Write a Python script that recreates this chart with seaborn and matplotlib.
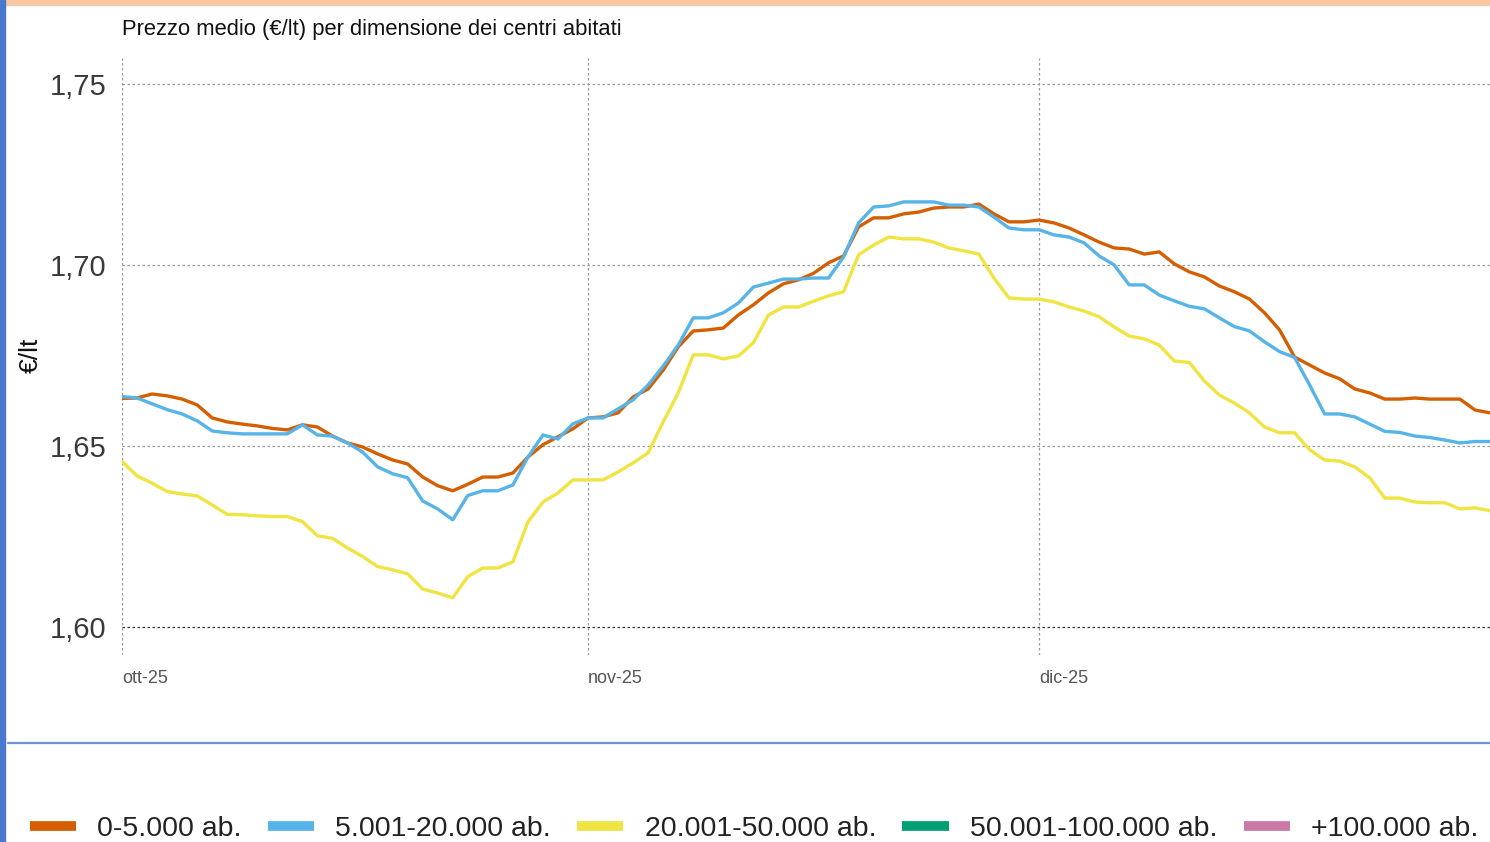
import numpy as np
import pandas as pd
import matplotlib
matplotlib.use("Agg")
import matplotlib.pyplot as plt
from matplotlib.lines import Line2D
import seaborn as sns

# --- Dati (prezzo medio giornaliero, ott-dic 2025) ---
start_date = "2025-10-01"

series_names = ["0-5.000 ab.", "5.001-20.000 ab.", "20.001-50.000 ab.",
                "50.001-100.000 ab.", "+100.000 ab."]
series_colors = ["#D55E00", "#56B4E9", "#F0E442", "#009E73", "#CC79A7"]

prezzo_0_5k = [
    1.6632, 1.6633, 1.6644, 1.6639, 1.6630, 1.6614, 1.6578, 1.6567, 1.6561, 1.6556,
    1.6549, 1.6545, 1.6559, 1.6553, 1.6528, 1.6509, 1.6498, 1.6479, 1.6462, 1.6451,
    1.6415, 1.6391, 1.6377, 1.6395, 1.6415, 1.6415, 1.6426, 1.6470, 1.6504, 1.6526,
    1.6548, 1.6578, 1.6581, 1.6592, 1.6636, 1.6658, 1.6710, 1.6774, 1.6818, 1.6821,
    1.6826, 1.6862, 1.6890, 1.6923, 1.6948, 1.6959, 1.6977, 1.7006, 1.7025, 1.7105,
    1.7130, 1.7130, 1.7141, 1.7146, 1.7157, 1.7160, 1.7160, 1.7168, 1.7141, 1.7119,
    1.7119, 1.7124, 1.7116, 1.7102, 1.7083, 1.7063, 1.7047, 1.7044, 1.7030, 1.7036,
    1.7003, 1.6981, 1.6967, 1.6942, 1.6926, 1.6906, 1.6868, 1.6821, 1.6746, 1.6724,
    1.6702, 1.6686, 1.6658, 1.6647, 1.6630, 1.6630, 1.6633, 1.6630, 1.6630, 1.6630,
    1.6600, 1.6592,
]

prezzo_5k_20k = [
    1.6637, 1.6633, 1.6617, 1.6601, 1.6589, 1.6570, 1.6542, 1.6537, 1.6534, 1.6534,
    1.6534, 1.6534, 1.6559, 1.6531, 1.6528, 1.6509, 1.6484, 1.6443, 1.6424, 1.6413,
    1.6349, 1.6327, 1.6297, 1.6364, 1.6377, 1.6377, 1.6393, 1.6470, 1.6531, 1.6520,
    1.6562, 1.6578, 1.6578, 1.6603, 1.6628, 1.6669, 1.6721, 1.6779, 1.6854, 1.6854,
    1.6868, 1.6895, 1.6939, 1.6950, 1.6961, 1.6961, 1.6964, 1.6964, 1.7022, 1.7116,
    1.7160, 1.7163, 1.7174, 1.7174, 1.7174, 1.7165, 1.7165, 1.7160, 1.7132, 1.7102,
    1.7097, 1.7097, 1.7083, 1.7077, 1.7061, 1.7025, 1.7000, 1.6945, 1.6945, 1.6917,
    1.6901, 1.6886, 1.6879, 1.6854, 1.6830, 1.6818, 1.6788, 1.6761, 1.6745, 1.6669,
    1.6589, 1.6589, 1.6581, 1.6561, 1.6541, 1.6538, 1.6528, 1.6524, 1.6517, 1.6509,
    1.6513, 1.6513,
]

prezzo_20k_50k = [
    1.6458, 1.6418, 1.6398, 1.6375, 1.6368, 1.6363, 1.6338, 1.6312, 1.6311, 1.6308,
    1.6306, 1.6306, 1.6292, 1.6253, 1.6246, 1.6219, 1.6196, 1.6168, 1.6159, 1.6148,
    1.6106, 1.6095, 1.6082, 1.6140, 1.6164, 1.6164, 1.6181, 1.6291, 1.6346, 1.6371,
    1.6407, 1.6407, 1.6407, 1.6429, 1.6454, 1.6482, 1.6567, 1.6647, 1.6752, 1.6752,
    1.6741, 1.6749, 1.6785, 1.6862, 1.6884, 1.6884, 1.6900, 1.6915, 1.6926, 1.7028,
    1.7055, 1.7077, 1.7072, 1.7072, 1.7063, 1.7047, 1.7039, 1.7030, 1.6964, 1.6909,
    1.6906, 1.6906, 1.6898, 1.6884, 1.6873, 1.6857, 1.6829, 1.6804, 1.6796, 1.6779,
    1.6735, 1.6731, 1.6680, 1.6641, 1.6619, 1.6592, 1.6553, 1.6537, 1.6537, 1.6490,
    1.6462, 1.6459, 1.6443, 1.6413, 1.6357, 1.6357, 1.6346, 1.6344, 1.6344, 1.6327,
    1.6330, 1.6322,
]

y_ticks = [1.60, 1.65, 1.70, 1.75]
y_tick_labels = ["1,60", "1,65", "1,70", "1,75"]
x_tick_dates = ["2025-10-01", "2025-11-01", "2025-12-01"]
x_tick_labels = ["ott-25", "nov-25", "dic-25"]

# --- DataFrame lungo per seaborn ---
dates = pd.date_range(start_date, periods=len(prezzo_0_5k), freq="D")
df = pd.concat([
    pd.DataFrame({"data": dates, "prezzo": prezzo_0_5k, "classe": series_names[0]}),
    pd.DataFrame({"data": dates, "prezzo": prezzo_5k_20k, "classe": series_names[1]}),
    pd.DataFrame({"data": dates, "prezzo": prezzo_20k_50k, "classe": series_names[2]}),
])

sns.set_theme(style="white")
plt.rcParams["font.family"] = ["Liberation Sans", "DejaVu Sans"]

W, H = 1490, 842
fig = plt.figure(figsize=(W / 100, H / 100), dpi=100)
ax = fig.add_axes([122 / W, 1 - 655 / H, 1 - 122 / W, (655 - 58) / H])

sns.lineplot(data=df, x="data", y="prezzo", hue="classe",
             hue_order=series_names[:3], palette=series_colors[:3],
             linewidth=2.4, legend=False, ax=ax)

# --- Assi ---
ax.set_xlim(pd.Timestamp("2025-10-01"), pd.Timestamp("2025-12-31"))
ax.set_ylim(1.5924, 1.7571)
ax.set_yticks(y_ticks)
ax.set_yticklabels(y_tick_labels, fontsize=21, color="#3a3a3a")
ax.set_xticks(pd.to_datetime(x_tick_dates))
ax.set_xticklabels(x_tick_labels, fontsize=13, color="#555555", ha="left")
ax.tick_params(axis="y", length=0, pad=11)
ax.tick_params(axis="x", length=0, pad=11)
ax.set_xlabel("")
ax.set_ylabel("")
for s in ax.spines.values():
    s.set_visible(False)

# griglia tratteggiata
ax.grid(False)
for t in y_ticks:
    col = "#333333" if t == y_ticks[0] else "#9a9a9a"
    ax.axhline(t, color=col, linestyle=(0, (2, 2)), linewidth=0.9, zorder=0)
for d in pd.to_datetime(x_tick_dates):
    ax.axvline(d, color="#9a9a9a", linestyle=(0, (2, 2)), linewidth=0.9, zorder=0)

# --- Testi ---
fig.text(122 / W, 1 - 29 / H, "Prezzo medio (€/lt) per dimensione dei centri abitati",
         fontsize=15.8, color="#111111", ha="left", va="center")
fig.text(31 / W, 1 - 355 / H, "€/lt", fontsize=19, color="#111111",
         rotation=90, ha="center", va="center")

# --- Decorazioni pagina ---
fig.patches.append(plt.Rectangle((0, 1 - 5 / H), 1, 5 / H, transform=fig.transFigure,
                                 color="#F7C8A4", zorder=5))
fig.patches.append(plt.Rectangle((0, 0), 5 / W, 1, transform=fig.transFigure,
                                 color="#4A78CF", zorder=5))
fig.lines.append(Line2D([8 / W, 1], [1 - 743 / H, 1 - 743 / H], transform=fig.transFigure,
                        color="#6F93D8", linewidth=1.6))

# --- Legenda ---
handles = [Line2D([0], [0], color=c, linewidth=7, solid_capstyle="butt") for c in series_colors]
fig.legend(handles, series_names, loc="center", bbox_to_anchor=(754 / W, 1 - 829 / H),
           ncol=5, frameon=False, fontsize=20.5, handlelength=1.62, handletextpad=0.75,
           columnspacing=0.92, labelcolor="#222222", borderpad=0, borderaxespad=0)

fig.savefig("out.png", dpi=100)
